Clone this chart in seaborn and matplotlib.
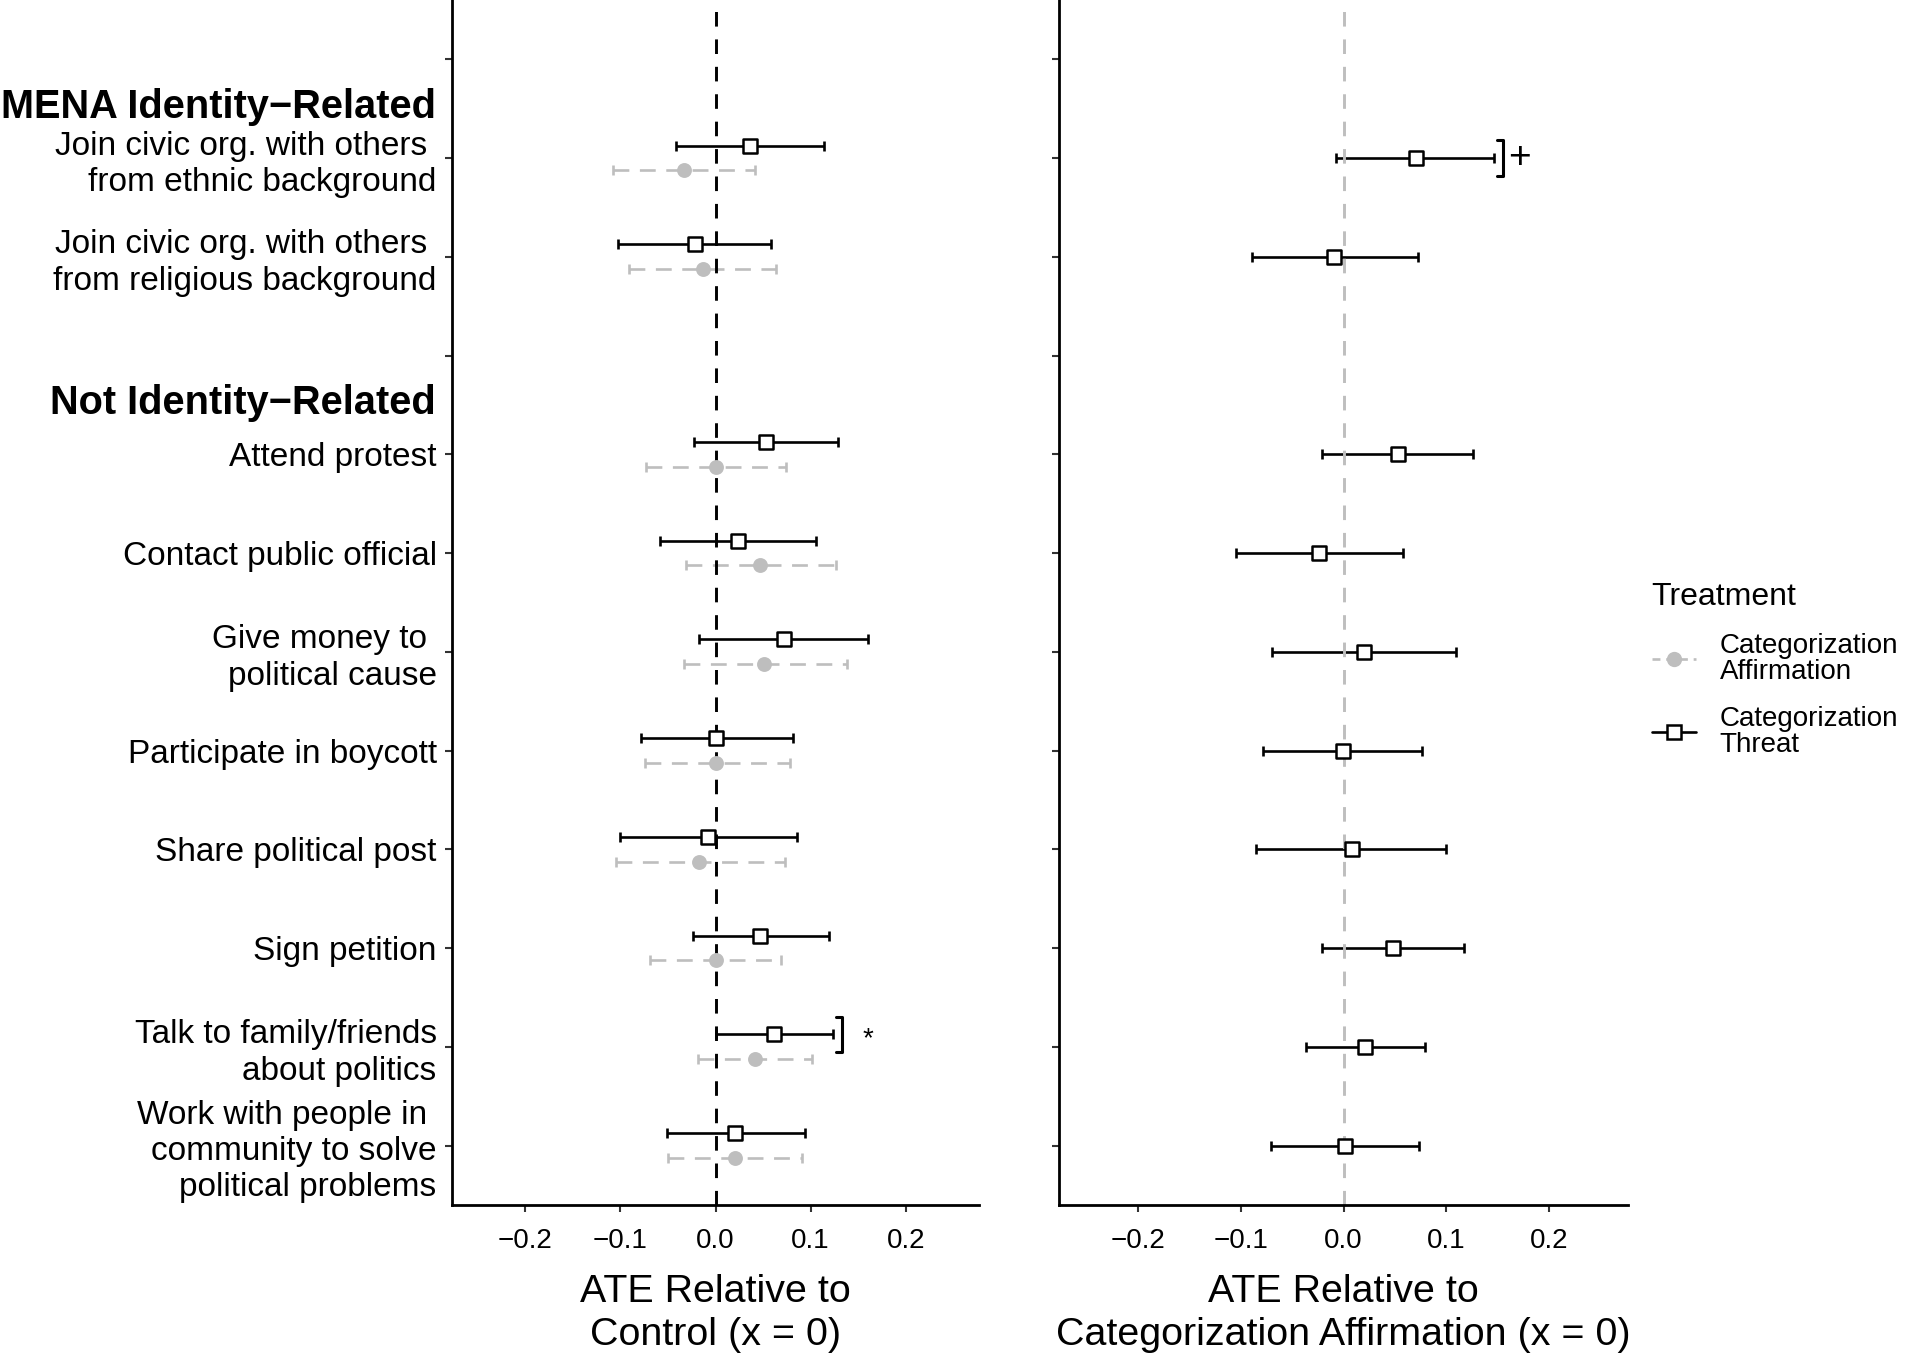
import numpy as np
import pandas as pd
import seaborn as sns
import matplotlib.pyplot as plt
from matplotlib.lines import Line2D
from matplotlib.transforms import blended_transform_factory

sns.set_theme(style="white")
plt.rcParams["font.family"] = ["Liberation Sans", "DejaVu Sans"]
plt.rcParams.update({"text.color": "black", "axes.labelcolor": "black",
                     "xtick.color": "black", "ytick.color": "black"})

# y rows, top to bottom ("" marks a header row)
row_labels = [
    "",
    "Join civic org. with others \nfrom ethnic background",
    "Join civic org. with others \nfrom religious background",
    "",
    "Attend protest",
    "Contact public official",
    "Give money to \npolitical cause",
    "Participate in boycott",
    "Share political post",
    "Sign petition",
    "Talk to family/friends\nabout politics",
    "Work with people in \ncommunity to solve\npolitical problems",
]
headers = ["MENA Identity\u2212Related", "Not Identity\u2212Related"]
header_rows = [0, 3]
items = [r for r in row_labels if r]

# left panel: ATE vs control
thr_est = [0.036, -0.022, 0.053, 0.024, 0.072, 0.001, -0.008, 0.047, 0.062, 0.021]
thr_lo = [-0.041, -0.102, -0.023, -0.058, -0.017, -0.078, -0.100, -0.024, 0.001, -0.051]
thr_hi = [0.114, 0.058, 0.129, 0.106, 0.160, 0.081, 0.086, 0.119, 0.124, 0.094]
aff_est = [-0.033, -0.013, 0.000, 0.047, 0.051, 0.001, -0.017, 0.000, 0.041, 0.020]
aff_lo = [-0.108, -0.091, -0.073, -0.031, -0.033, -0.074, -0.105, -0.069, -0.018, -0.050]
aff_hi = [0.042, 0.064, 0.074, 0.127, 0.138, 0.078, 0.073, 0.069, 0.101, 0.091]

# right panel: threat vs affirmation
cmp_est = [0.070, -0.009, 0.053, -0.024, 0.020, -0.001, 0.008, 0.048, 0.021, 0.001]
cmp_lo = [-0.007, -0.089, -0.021, -0.105, -0.070, -0.078, -0.085, -0.021, -0.037, -0.071]
cmp_hi = [0.146, 0.072, 0.126, 0.058, 0.109, 0.076, 0.100, 0.117, 0.079, 0.073]

# significance brackets: (panel, item index, x, symbol)
sig_panel = [0, 1]
sig_item = [8, 0]
sig_x = [0.133, 0.155]
sig_sym = ["*", "+"]

GREY = "#BEBEBE"
pos = {lab: i for i, lab in enumerate(row_labels) if lab}
dodge = 0.125

left = pd.concat([
    pd.DataFrame({"item": items, "est": thr_est, "lo": thr_lo, "hi": thr_hi,
                  "treat": "Threat", "off": -dodge}),
    pd.DataFrame({"item": items, "est": aff_est, "lo": aff_lo, "hi": aff_hi,
                  "treat": "Affirmation", "off": dodge}),
])
right = pd.DataFrame({"item": items, "est": cmp_est, "lo": cmp_lo, "hi": cmp_hi,
                      "treat": "Threat", "off": 0.0})
for d in (left, right):
    d["y"] = d["item"].map(pos) + d["off"]

fig = plt.figure(figsize=(19.07, 13.66), dpi=100)
ax1 = fig.add_axes([0.237, 0.118, 0.2764, 0.882])
ax2 = fig.add_axes([0.5553, 0.118, 0.2986, 0.882])


def draw(ax, df, vcolor):
    ax.axvline(0, color=vcolor, lw=2.1, ls=(0, (5, 4.4)), zorder=2.5)
    for treat, sub in df.groupby("treat"):
        aff = treat == "Affirmation"
        c = GREY if aff else "black"
        eb = ax.errorbar(sub["est"], sub["y"],
                         xerr=[sub["est"] - sub["lo"], sub["hi"] - sub["est"]],
                         fmt="none", ecolor=c, elinewidth=1.9, capsize=3.6,
                         capthick=1.9, zorder=2)
        if aff:
            eb[2][0].set_linestyle((0, (6, 4)))
            sns.scatterplot(x=sub["est"], y=sub["y"], ax=ax, color=GREY,
                            marker="o", s=115, linewidth=0, zorder=3)
        else:
            sns.scatterplot(x=sub["est"], y=sub["y"], ax=ax, color="white",
                            edgecolor="black", marker="s", s=100,
                            linewidth=1.8, zorder=3)
    ax.set_xlim(-0.277, 0.277)
    ax.set_ylim(11.6, -0.6)
    ax.set_xticks([-0.2, -0.1, 0.0, 0.1, 0.2])
    ax.set_xticklabels(["\u22120.2", "\u22120.1", "0.0", "0.1", "0.2"])
    ax.set_yticks(range(len(row_labels)))
    ax.set_ylabel("")
    for s in ["top", "right"]:
        ax.spines[s].set_visible(False)
    for s in ["left", "bottom"]:
        ax.spines[s].set_color("black")
        ax.spines[s].set_linewidth(2)
    ax.tick_params(axis="both", length=5, width=1.5, color="#333333",
                   labelsize=20, pad=12, left=True, bottom=True)
    ax.tick_params(axis="y", labelsize=24, pad=6)
    for i, t in enumerate(ax.yaxis.get_major_ticks()):
        if i in header_rows:
            t.tick1line.set_color("#EBEBEB")


draw(ax1, left, "black")
draw(ax2, right, GREY)

ax1.set_yticklabels(row_labels, linespacing=1.22)
ax2.set_yticklabels([])
trans = blended_transform_factory(ax1.transAxes, ax1.transData)
for r, h in zip(header_rows, headers):
    ax1.text(-0.03, r + 0.48, h, transform=trans, ha="right", va="center",
             fontsize=28.6, fontweight="bold")

ax1.set_xlabel("ATE Relative to\nControl (x = 0)", fontsize=28.4,
               labelpad=14, linespacing=1.27)
ax2.set_xlabel("ATE Relative to\nCategorization Affirmation (x = 0)",
               fontsize=28.4, labelpad=14, linespacing=1.27)

# significance brackets
for p, it, x, sym in zip(sig_panel, sig_item, sig_x, sig_sym):
    ax = ax1 if p == 0 else ax2
    yc = pos[items[it]] + (-dodge if p == 0 else 0)
    ax.plot([x - 0.006, x, x, x - 0.006], [yc - 0.18, yc - 0.18, yc + 0.18, yc + 0.18],
            color="black", lw=2.2, solid_capstyle="round")
    if sym == "*":
        ax.text(x + 0.027, yc + 0.05, sym, fontsize=20, ha="center", va="center")
    else:
        ax.text(x + 0.016, yc, sym, fontsize=28, ha="center", va="center")

handles = [
    Line2D([], [], color=GREY, ls=(0, (3, 2.2)), lw=1.9, marker="o",
           markersize=11, markeredgewidth=0),
    Line2D([], [], color="black", lw=1.9, marker="s", markersize=9.5,
           markerfacecolor="white", markeredgecolor="black", markeredgewidth=1.8),
]
leg = fig.legend(handles, ["Categorization\nAffirmation", "Categorization\nThreat"],
                 title="Treatment", loc="upper left", bbox_to_anchor=(0.853, 0.592),
                 frameon=False, fontsize=20, title_fontsize=23, handlelength=1.6,
                 labelspacing=0.75, handletextpad=0.85, alignment="left")
for t in leg.get_texts():
    t.set_linespacing(1.0)

fig.savefig("out.png", dpi=100)
